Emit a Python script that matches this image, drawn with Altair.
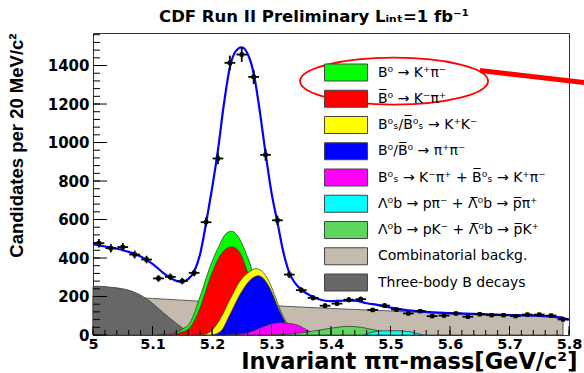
import altair as alt
import pandas as pd

# ---------------- data ----------------
# data points (bin centres, candidates per 20 MeV)
pt_x = [5.01, 5.03, 5.05, 5.07, 5.09, 5.11, 5.13, 5.15, 5.17, 5.19,
        5.21, 5.23, 5.25, 5.27, 5.29, 5.31, 5.33, 5.35, 5.37, 5.39,
        5.41, 5.43, 5.45, 5.47, 5.49, 5.51, 5.53, 5.55, 5.57, 5.59,
        5.61, 5.63, 5.65, 5.67, 5.69, 5.71, 5.73, 5.75, 5.77, 5.79]
pt_n = [477, 451, 457, 418, 392, 294, 302, 280, 323, 586,
        917, 1414, 1457, 1341, 936, 596, 314, 233, 193, 152,
        163, 183, 186, 130, 153, 132, 112, 124, 98, 101,
        112, 95, 108, 103, 103, 98, 106, 106, 101, 81]

# fit curve
fit_x = [5.00, 5.02, 5.04, 5.06, 5.08, 5.10, 5.12, 5.14, 5.15, 5.16, 5.17, 5.18,
         5.19, 5.20, 5.21, 5.22, 5.23, 5.24, 5.25, 5.26, 5.27, 5.28, 5.29, 5.30,
         5.31, 5.32, 5.33, 5.34, 5.35, 5.36, 5.37, 5.38, 5.39, 5.40, 5.42, 5.44,
         5.46, 5.48, 5.50, 5.53, 5.56, 5.60, 5.65, 5.70, 5.75, 5.78, 5.80]
fit_y = [472, 460, 448, 432, 408, 370, 318, 281, 276, 290, 330, 420,
         580, 760, 960, 1200, 1390, 1475, 1495, 1460, 1360, 1170, 945, 740,
         585, 430, 323, 268, 236, 214, 198, 186, 178, 176, 178, 178,
         165, 155, 142, 128, 120, 114, 108, 104, 99, 92, 80]

# components
comb_x = [5.0, 5.1, 5.2, 5.3, 5.4, 5.5, 5.6, 5.7, 5.79]
comb_y = [205, 190, 172, 153, 138, 125, 111, 102, 96]

three_x = [5.0, 5.01, 5.03, 5.05, 5.07, 5.09, 5.11, 5.13, 5.15, 5.165, 5.18]
three_y = [252, 253, 248, 240, 222, 188, 138, 85, 38, 8, 0]

kpi_x = [5.11, 5.13, 5.15, 5.163, 5.18, 5.197, 5.213, 5.222, 5.233, 5.247, 5.258,
         5.264, 5.27, 5.28, 5.29, 5.30, 5.31, 5.32, 5.33]
kpi_y = [0, 5, 30, 63, 200, 357, 470, 522, 539, 496, 418, 370, 300, 200, 120, 70,
         35, 12, 0]

kbpi_x = [5.11, 5.13, 5.15, 5.165, 5.18, 5.197, 5.213, 5.225, 5.233, 5.247, 5.258,
          5.27, 5.28, 5.29, 5.30, 5.31, 5.32, 5.33]
kbpi_y = [0, 3, 15, 46, 141, 297, 409, 450, 458, 427, 340, 240, 160, 95, 55, 25, 8, 0]

kk_x = [5.185, 5.20, 5.213, 5.23, 5.247, 5.264, 5.274, 5.286, 5.294, 5.305, 5.316,
        5.327, 5.34, 5.35]
kk_y = [0, 25, 80, 184, 280, 331, 345, 325, 290, 210, 120, 58, 12, 0]

pipi_x = [5.20, 5.215, 5.23, 5.247, 5.264, 5.278, 5.29, 5.30, 5.31, 5.32, 5.33, 5.34, 5.35]
pipi_y = [0, 20, 105, 210, 285, 308, 280, 225, 150, 85, 32, 6, 0]

bs_x = [5.23, 5.26, 5.28, 5.30, 5.315, 5.33, 5.345, 5.36, 5.375, 5.39]
bs_y = [0, 12, 35, 57, 63, 60, 50, 25, 5, 0]

lpk_x = [5.30, 5.34, 5.38, 5.41, 5.43, 5.45, 5.47, 5.50, 5.53, 5.55]
lpk_y = [0, 8, 25, 40, 45, 40, 28, 12, 3, 0]

lppi_x = [5.455, 5.47, 5.49, 5.51, 5.53, 5.545, 5.555]
lppi_y = [0, 15, 22, 22, 18, 8, 0]

labels = [
    "B⁰ → K⁺π⁻",
    "B\u0305⁰ → K⁻π⁺",
    "B⁰ₛ/B\u0305⁰ₛ  → K⁺K⁻",
    "B⁰/B\u0305⁰ → π⁺π⁻",
    "B⁰ₛ → K⁻π⁺ + B\u0305⁰ₛ → K⁺π⁻",
    "Λ⁰b → pπ⁻ + Λ\u0305⁰b → p\u0305π⁺",
    "Λ⁰b → pK⁻ + Λ\u0305⁰b → p\u0305K⁺",
    "Combinatorial backg.",
    "Three-body B decays",
]
colors = ["#00ff00", "#ff0000", "#ffff00", "#0000ff", "#ff00ff",
          "#00ffff", "#5cd65c", "#c4baae", "#676767"]

x_major = [5.0, 5.1, 5.2, 5.3, 5.4, 5.5, 5.6, 5.7, 5.8]
y_major = [0, 200, 400, 600, 800, 1000, 1200, 1400]
x_minor = [round(5.0 + 0.02 * i, 2) for i in range(41)]
y_minor = [40 * i for i in range(40)]

# ---------------- chart ----------------
W, H = 476, 302
xscale = alt.Scale(domain=[5.0, 5.8], nice=False, zero=False)
yscale = alt.Scale(domain=[0, 1569], nice=False, zero=True)
cscale = alt.Scale(domain=labels, range=colors)

xaxis = alt.Axis(values=x_major, format=".1~f", ticks=False, domain=False, grid=False,
                 labelFont="DejaVu Sans", labelFontWeight="bold", labelFontSize=14.5,
                 labelColor="#000", labelPadding=2, labelFlush=False,
                 title="Invariant ππ-mass[GeV/c²]", titleFont="DejaVu Sans",
                 titleFontWeight="bold", titleFontSize=22.5, titleColor="#000",
                 titleAnchor="end", titleAlign="right", titleBaseline="alphabetic",
                 titleX=484, titleY=33)
yaxis = alt.Axis(values=y_major, format="d", ticks=False, domain=False, grid=False,
                 labelFont="DejaVu Sans", labelFontWeight="bold", labelFontSize=15,
                 labelColor="#000", labelPadding=4,
                 title="Candidates per 20 MeV/c²", titleFont="Liberation Sans",
                 titleFontWeight="bold", titleFontSize=18.5, titleColor="#000",
                 titleAngle=-90, titleAnchor="end", titleAlign="right",
                 titleBaseline="middle", titleX=-77, titleY=0)

# wide rectangle symbol: size gives a 17 px entry height, path spans 43 px
legend = alt.Legend(title=None, orient="none", legendX=244, legendY=30.5,
                    symbolType="M-2.53,-1H2.53V1H-2.53Z", symbolSize=289,
                    symbolStrokeColor="#444", symbolStrokeWidth=1, symbolOpacity=1,
                    labelFont="DejaVu Sans", labelFontSize=14, labelColor="#000",
                    labelOffset=23, rowPadding=4.25, padding=0, labelLimit=400)


def comp_layer(xs, ys, label):
    df = pd.DataFrame({"x": xs, "y": ys, "comp": label})
    return alt.Chart(df).mark_area(
        interpolate="monotone", stroke="#3a3a3a", strokeWidth=0.8, opacity=1
    ).encode(
        x=alt.X("x:Q", scale=xscale, axis=xaxis),
        y=alt.Y("y:Q", scale=yscale, axis=yaxis),
        color=alt.Color("comp:N", scale=cscale, legend=legend),
    )


areas = [
    comp_layer(comb_x, comb_y, labels[7]),
    comp_layer(three_x, three_y, labels[8]),
    comp_layer(kpi_x, kpi_y, labels[0]),
    comp_layer(kbpi_x, kbpi_y, labels[1]),
    comp_layer(kk_x, kk_y, labels[2]),
    comp_layer(pipi_x, pipi_y, labels[3]),
    comp_layer(bs_x, bs_y, labels[4]),
    comp_layer(lpk_x, lpk_y, labels[6]),
    comp_layer(lppi_x, lppi_y, labels[5]),
]

fit = alt.Chart(pd.DataFrame({"x": fit_x, "y": fit_y})).mark_line(
    interpolate="monotone", color="#0000ff", strokeWidth=2.2
).encode(x=alt.X("x:Q", scale=xscale, axis=xaxis), y=alt.Y("y:Q", scale=yscale, axis=yaxis))

pts_df = pd.DataFrame({"x": pt_x, "n": pt_n})
pts_base = alt.Chart(pts_df).transform_calculate(
    lo="datum.n - sqrt(datum.n)", hi="datum.n + sqrt(datum.n)",
    xl="datum.x - 0.009", xr="datum.x + 0.009")
ebar_v = pts_base.mark_rule(color="#000", strokeWidth=1.8).encode(
    x=alt.X("x:Q", scale=xscale, axis=xaxis), y=alt.Y("lo:Q", scale=yscale, axis=yaxis), y2="hi:Q")
ebar_h = pts_base.mark_rule(color="#000", strokeWidth=1.8).encode(
    x=alt.X("xl:Q", scale=xscale, axis=xaxis), x2="xr:Q", y=alt.Y("n:Q", scale=yscale, axis=yaxis))
dots = pts_base.mark_square(color="#000", size=18, opacity=1).encode(
    x=alt.X("x:Q", scale=xscale, axis=xaxis), y=alt.Y("n:Q", scale=yscale, axis=yaxis))

# inner tick marks (ROOT style)
ymaj = alt.Chart(pd.DataFrame({"v": y_major})).mark_rule(color="#000", strokeWidth=1).encode(
    y=alt.Y("v:Q", scale=yscale, axis=yaxis), x=alt.value(0), x2=alt.value(14))
ymin = alt.Chart(pd.DataFrame({"v": y_minor})).mark_rule(color="#000", strokeWidth=1).encode(
    y=alt.Y("v:Q", scale=yscale, axis=yaxis), x=alt.value(0), x2=alt.value(7))
xmaj = alt.Chart(pd.DataFrame({"v": x_major})).mark_rule(color="#000", strokeWidth=1).encode(
    x=alt.X("v:Q", scale=xscale, axis=xaxis), y=alt.value(H), y2=alt.value(H - 9))
xmin = alt.Chart(pd.DataFrame({"v": x_minor})).mark_rule(color="#000", strokeWidth=1).encode(
    x=alt.X("v:Q", scale=xscale, axis=xaxis), y=alt.value(H), y2=alt.value(H - 5))

# annotation: red ellipse around the first two legend entries and an arrow line
ell = alt.Chart(pd.DataFrame({"x": [5.506], "y": [1319]})).mark_point(
    shape="M-1,0A1,0.25,0,1,0,1,0A1,0.25,0,1,0,-1,0Z",
    size=35344, filled=False, stroke="#ff0000", strokeWidth=1.8, opacity=1, clip=False
).encode(x=alt.X("x:Q", scale=xscale, axis=xaxis), y=alt.Y("y:Q", scale=yscale, axis=yaxis))
arrow = alt.Chart(pd.DataFrame({"x": [5.6504], "y": [1374], "x2": [5.86], "y2": [1300]})).mark_rule(
    color="#ff0000", strokeWidth=5, clip=False
).encode(x=alt.X("x:Q", scale=xscale, axis=xaxis), y=alt.Y("y:Q", scale=yscale, axis=yaxis),
         x2="x2:Q", y2="y2:Q")

chart = alt.layer(
    *areas, fit, ebar_v, ebar_h, dots, ymaj, ymin, xmaj, xmin, ell, arrow
).properties(
    width=W, height=H,
    autosize=alt.AutoSizeParams(type="none"),
    padding={"left": 93, "top": 33, "right": 15, "bottom": 38},
    title=alt.Title("CDF Run II  Preliminary Lᵢₙₜ=1 fb⁻¹", font="DejaVu Sans",
                    fontWeight="bold", fontSize=16.5, color="#000", anchor="middle",
                    dx=-17, offset=8),
    background="white",
).configure_view(stroke="#333", strokeWidth=1)

chart.save("out.html", embed_options={"renderer": "svg", "actions": False})
